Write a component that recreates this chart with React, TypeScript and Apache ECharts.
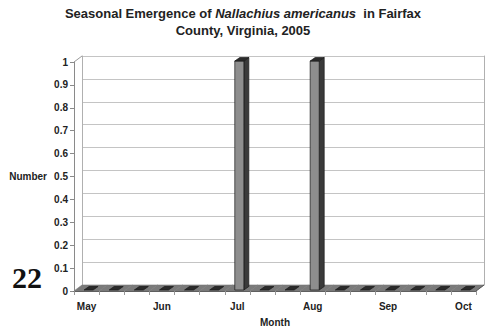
import React, { useEffect, useRef } from "react";
import * as echarts from "echarts";

// Sampling dates, roughly every ten days from May to October 2005
const dates = [
  "May 1", "May 11", "May 21",
  "Jun 1", "Jun 11", "Jun 21",
  "Jul 1", "Jul 11", "Jul 21",
  "Aug 1", "Aug 11", "Aug 21",
  "Sep 1", "Sep 11", "Sep 21",
  "Oct 1",
];
// Number of Nallachius americanus collected at each date
const counts = [0, 0, 0, 0, 0, 0, 1, 0, 0, 1, 0, 0, 0, 0, 0, 0];
const yTicks = { min: 0, max: 1, step: 0.1 };

const FONT = "Liberation Sans, Arial, sans-serif";
// 3D look: depth of the floor / back wall, in pixels
const DX = 8;
const DY = -6;
// bar box: offset from floor front edge and its own depth
const BOX_OX = 2;
const BOX_OY = -1;
const BDX = 5;
const BDY = -3.5;

export default function App() {
  const ref = useRef<HTMLDivElement>(null);

  useEffect(() => {
    document.body.style.margin = "0";
    const chart = echarts.init(ref.current!, undefined, { renderer: "svg" });
    const data = counts.map((v, i) => [i, v]);

    const floorItem = (params: any, api: any) => {
      const idx = api.value(0);
      const base = api.coord([idx, 0]);
      const band = api.size([1, 0])[0];
      const xL = base[0] - band / 2;
      const xR = base[0] + band / 2;
      const y0 = base[1];
      const children: any[] = [
        {
          type: "polygon",
          shape: {
            points: [
              [xL, y0],
              [xR, y0],
              [xR + DX, y0 + DY],
              [xL + DX, y0 + DY],
            ],
          },
          style: { fill: "#7a7a7a", stroke: "#7a7a7a", lineWidth: 0.6 },
        },
      ];
      if (idx === 0) {
        const top = api.coord([0, yTicks.max]);
        children.push({
          type: "line",
          shape: { x1: xL, y1: top[1], x2: xL + DX, y2: top[1] + DY },
          style: { stroke: "#9a9a9a", lineWidth: 1 },
        });
      }
      if (idx === dates.length - 1) {
        children.push({
          type: "line",
          shape: { x1: xR, y1: y0, x2: xR + DX, y2: y0 + DY },
          style: { stroke: "#555", lineWidth: 1 },
        });
      }
      return { type: "group", children };
    };

    const barItem = (params: any, api: any) => {
      const idx = api.value(0);
      const v = api.value(1);
      const base = api.coord([idx, 0]);
      const top = api.coord([idx, v]);
      const band = api.size([1, 0])[0];
      const bw = band * 0.36;
      const fx = base[0] - bw / 2 + BOX_OX;
      const fy0 = base[1] + BOX_OY;
      const fy1 = top[1] + BOX_OY;
      const children: any[] = [];
      if (fy0 - fy1 > 0.5) {
        children.push(
          {
            type: "polygon",
            shape: {
              points: [
                [fx + bw, fy0],
                [fx + bw + BDX, fy0 + BDY],
                [fx + bw + BDX, fy1 + BDY],
                [fx + bw, fy1],
              ],
            },
            style: { fill: "#3a3a3a", stroke: "#1a1a1a", lineWidth: 0.7 },
          },
          {
            type: "rect",
            shape: { x: fx, y: fy1, width: bw, height: fy0 - fy1 },
            style: { fill: "#8e8e8e", stroke: "#1a1a1a", lineWidth: 0.7 },
          }
        );
      }
      children.push({
        type: "polygon",
        shape: {
          points: [
            [fx, fy1],
            [fx + bw, fy1],
            [fx + bw + BDX, fy1 + BDY],
            [fx + BDX, fy1 + BDY],
          ],
        },
        style: { fill: "#2a2a2a", stroke: "#1a1a1a", lineWidth: 0.7 },
      });
      return { type: "group", children };
    };

    const axisText = { fontFamily: FONT, fontWeight: "bold" as const, fontSize: 10, color: "#222" };

    chart.setOption({
      animation: false,
      backgroundColor: "#ffffff",
      title: {
        left: "center",
        top: 0,
        text:
          "{b|Seasonal Emergence of }{i|Nallachius americanus}{b|  in Fairfax}\n{b|County, Virginia, 2005}",
        textStyle: {
          rich: {
            b: { fontFamily: FONT, fontWeight: "bold", fontSize: 13, color: "#222", lineHeight: 17 },
            i: {
              fontFamily: FONT,
              fontWeight: "bold",
              fontStyle: "italic",
              fontSize: 13,
              color: "#222",
              lineHeight: 17,
            },
          },
        },
      },
      grid: [
        { left: 74, right: 10, top: 62, bottom: 37, outerBoundsMode: "none" },
        {
          left: 74 + DX,
          right: 10 - DX,
          top: 62 + DY,
          bottom: 37 - DY,
          outerBoundsMode: "none",
        },
      ],
      xAxis: [
        {
          gridIndex: 0,
          type: "category",
          data: dates,
          boundaryGap: true,
          axisLine: { show: true, lineStyle: { color: "#555", width: 1 } },
          axisTick: { show: true, interval: 0, length: 4, lineStyle: { color: "#999" } },
          axisLabel: {
            interval: 2,
            margin: 10,
            formatter: (v: string) => v.split(" ")[0],
            ...axisText,
          },
          name: "Month",
          nameLocation: "middle",
          nameGap: 26,
          nameTextStyle: axisText,
          z: 1,
        },
        {
          gridIndex: 1,
          type: "category",
          data: dates,
          show: false,
        },
      ],
      yAxis: [
        {
          gridIndex: 0,
          type: "value",
          min: yTicks.min,
          max: yTicks.max,
          interval: yTicks.step,
          splitLine: { show: false },
          axisLine: { show: true, lineStyle: { color: "#8a8a8a" } },
          axisTick: { show: true, length: 4, lineStyle: { color: "#8a8a8a" } },
          axisLabel: { margin: 6, ...axisText },
          name: "Number",
          nameLocation: "middle",
          nameRotate: 0,
          nameGap: 27,
          nameTextStyle: axisText,
        },
        {
          gridIndex: 1,
          type: "value",
          min: yTicks.min,
          max: yTicks.max,
          interval: yTicks.step,
          axisLabel: { show: false },
          axisTick: { show: false },
          axisLine: { show: true, lineStyle: { color: "#b0b0b0" } },
          splitLine: { show: true, lineStyle: { color: "#c4c4c4", width: 1.2 } },
        },
        {
          gridIndex: 1,
          type: "value",
          position: "right",
          min: yTicks.min,
          max: yTicks.max,
          interval: yTicks.step,
          axisLabel: { show: false },
          axisTick: { show: false },
          axisLine: { show: true, lineStyle: { color: "#b0b0b0" } },
          splitLine: { show: false },
        },
      ],
      graphic: [
        {
          type: "text",
          left: 12,
          top: 262,
          style: {
            text: "22",
            font: "bold 30px 'Liberation Serif', 'Times New Roman', serif",
            fill: "#111",
          },
        },
      ],
      series: [
        {
          type: "custom",
          xAxisIndex: 0,
          yAxisIndex: 0,
          renderItem: floorItem,
          data,
          z: 2,
          silent: true,
        },
        {
          type: "custom",
          xAxisIndex: 0,
          yAxisIndex: 0,
          renderItem: barItem,
          data,
          z: 3,
          silent: true,
        },
      ],
    });

    return () => chart.dispose();
  }, []);

  return (
    <div
      ref={ref}
      style={{ position: "fixed", left: 0, top: 0, width: 486, height: 328 }}
    />
  );
}
